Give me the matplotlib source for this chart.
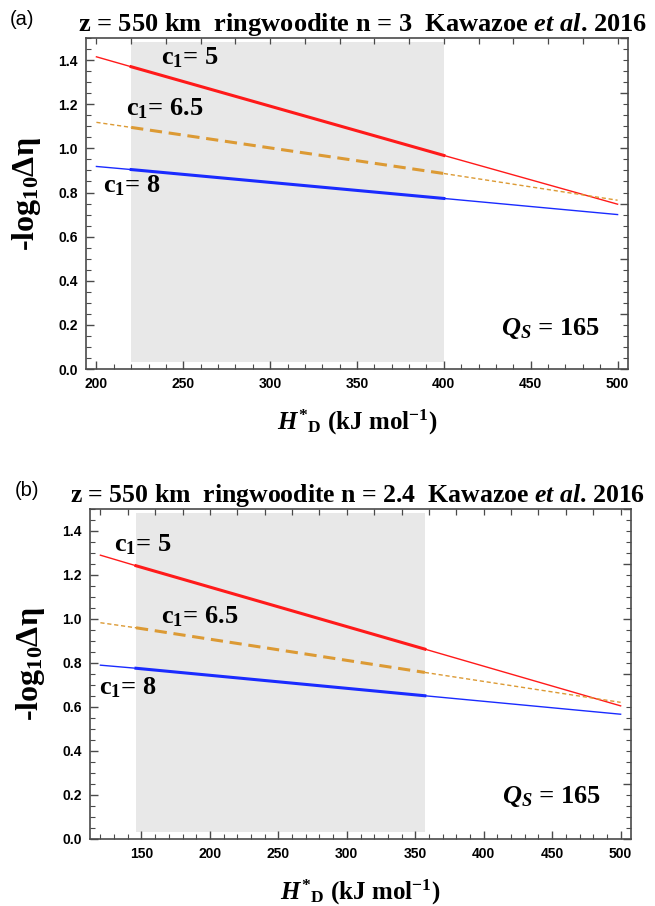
import matplotlib
matplotlib.use("Agg")
import matplotlib.pyplot as plt
from matplotlib.ticker import MultipleLocator, NullFormatter

plt.rcParams['mathtext.fontset'] = 'custom'
plt.rcParams['mathtext.rm'] = 'Liberation Serif:bold'
plt.rcParams['mathtext.bf'] = 'Liberation Serif:bold'
plt.rcParams['mathtext.it'] = 'Liberation Serif:italic:bold'

# activation enthalpy H*_D (kJ/mol); shaded band marks the preferred range
h_a = [200, 220, 400, 500]
red_a = [1.415, 1.370, 0.968, 0.747]      # c1 = 5
orange_a = [1.118, 1.095, 0.886, 0.765]   # c1 = 6.5
blue_a = [0.918, 0.904, 0.773, 0.700]     # c1 = 8
band_a = [220, 400]

h_b = [120, 146, 357, 500]
red_b = [1.290, 1.242, 0.863, 0.605]
orange_b = [0.983, 0.960, 0.757, 0.621]
blue_b = [0.790, 0.776, 0.651, 0.567]
band_b = [146, 357]

titles = [r'z = 550 km  ringwoodite n = 3  Kawazoe $\mathit{et\ al}$. 2016',
          r'z = 550 km  ringwoodite n = 2.4  Kawazoe $\mathit{et\ al}$. 2016']
c1_labels = [r'$\mathbf{c_1}$= 5', r'$\mathbf{c_1}$= 6.5', r'$\mathbf{c_1}$= 8']
q_label = r'$\mathit{Q_S}$ = $\mathit{165}$'

SERIF = 'Liberation Serif'
SANS = 'Liberation Sans'
FRAME = '#4a4a4a'


def draw_line(ax, h, y, color, dashed=False):
    thin = dict(color=color, lw=1.0)
    thick = dict(color=color, lw=2.2)
    if dashed:
        thin['dashes'] = (3, 2)
        thick['dashes'] = (4, 2.2)
    ax.plot(h[0:2], y[0:2], **thin)
    ax.plot(h[1:3], y[1:3], **thick)
    ax.plot(h[2:4], y[2:4], **thin)


def style_axes(ax, h):
    pad = (h[-1] - h[0]) * 0.02
    ax.set_xlim(h[0] - pad, h[-1] + pad)
    ax.set_ylim(0, 1.5)
    for s in ax.spines.values():
        s.set_color(FRAME)
        s.set_linewidth(1.2)
    ax.xaxis.set_major_locator(MultipleLocator(50))
    ax.xaxis.set_minor_locator(MultipleLocator(10))
    ax.yaxis.set_major_locator(MultipleLocator(0.2))
    ax.yaxis.set_minor_locator(MultipleLocator(0.05))
    ax.tick_params(which='both', direction='in', color=FRAME, top=False, right=False)
    ax.tick_params(which='major', length=6, width=1.0, pad=6)
    ax.tick_params(which='minor', length=3.5, width=0.8)
    ax.set_yticks([0.0, 0.2, 0.4, 0.6, 0.8, 1.0, 1.2, 1.4])
    ax.set_yticklabels(['0.0', '0.2', '0.4', '0.6', '0.8', '1.0', '1.2', '1.4'])
    for lab in ax.get_xticklabels() + ax.get_yticklabels():
        lab.set_fontfamily(SANS)
        lab.set_fontweight('bold')
        lab.set_fontsize(10)

    top = ax.secondary_xaxis('top')
    top.xaxis.set_major_locator(MultipleLocator(20))
    top.xaxis.set_major_formatter(NullFormatter())
    top.tick_params(direction='in', length=4, width=0.9, color=FRAME)
    top.spines['top'].set_visible(False)

    right = ax.secondary_yaxis('right')
    right.yaxis.set_major_locator(MultipleLocator(0.25))
    right.yaxis.set_minor_locator(MultipleLocator(0.05))
    right.yaxis.set_major_formatter(NullFormatter())
    right.tick_params(which='major', direction='in', length=6, width=1.0, color=FRAME)
    right.tick_params(which='minor', direction='in', length=3.5, width=0.8, color=FRAME)
    right.spines['right'].set_visible(False)


fig = plt.figure(figsize=(6.55, 9.06), dpi=100)
ax_a = fig.add_axes([0.1313, 0.5927, 0.8275, 0.3653])
ax_b = fig.add_axes([0.1374, 0.0740, 0.8260, 0.3642])

panels = [
    (ax_a, h_a, red_a, orange_a, blue_a, band_a, 'a',
     [(237, 1.38), (217, 1.15), (204, 0.80)], (433, 0.155), 19.0, 0.511),
    (ax_b, h_b, red_b, orange_b, blue_b, band_b, 'b',
     [(130, 1.305), (164, 0.98), (119, 0.655)], (413, 0.164), 18.5, 0.494),
]

for i, (ax, h, red, orange, blue, band, tag, c1_pos, q_pos, tsize, tx) in enumerate(panels):
    ax.fill_between(band, 0.03, 1.48, color='#e8e8e8', lw=0, zorder=0)
    draw_line(ax, h, red, '#ff1a1a')
    draw_line(ax, h, orange, '#dc9a34', dashed=True)
    draw_line(ax, h, blue, '#1a2bff')
    style_axes(ax, h)

    for txt, (x, y) in zip(c1_labels, c1_pos):
        ax.text(x, y, txt, fontsize=19, fontfamily=SERIF, fontweight='bold',
                ha='left', va='baseline')
    ax.text(q_pos[0], q_pos[1], q_label, fontsize=19, fontfamily=SERIF,
            fontweight='bold', fontstyle='italic', ha='left', va='baseline')

    ax.set_ylabel(r'-log$_{10}$$\mathbf{\Delta\eta}$', fontsize=23,
                  fontfamily=SERIF, fontweight='bold')
    ax.yaxis.set_label_coords(-0.08, 0.53)
    ax.set_xlabel(r'$\mathit{H}^{*}{}_{\mathbf{D}}$ (kJ mol$^{\mathbf{-1}}$)',
                  fontsize=18, fontfamily=SERIF, fontweight='bold', labelpad=12)

    ax.set_title(titles[i], fontsize=tsize, fontfamily=SERIF, fontweight='bold',
                 pad=5, x=tx)
    ax.text(-0.14, 1.055, '(' + tag + ')', transform=ax.transAxes,
            fontsize=14.5, fontfamily=SANS, ha='left', va='center')

fig.savefig('out.png', dpi=100)
